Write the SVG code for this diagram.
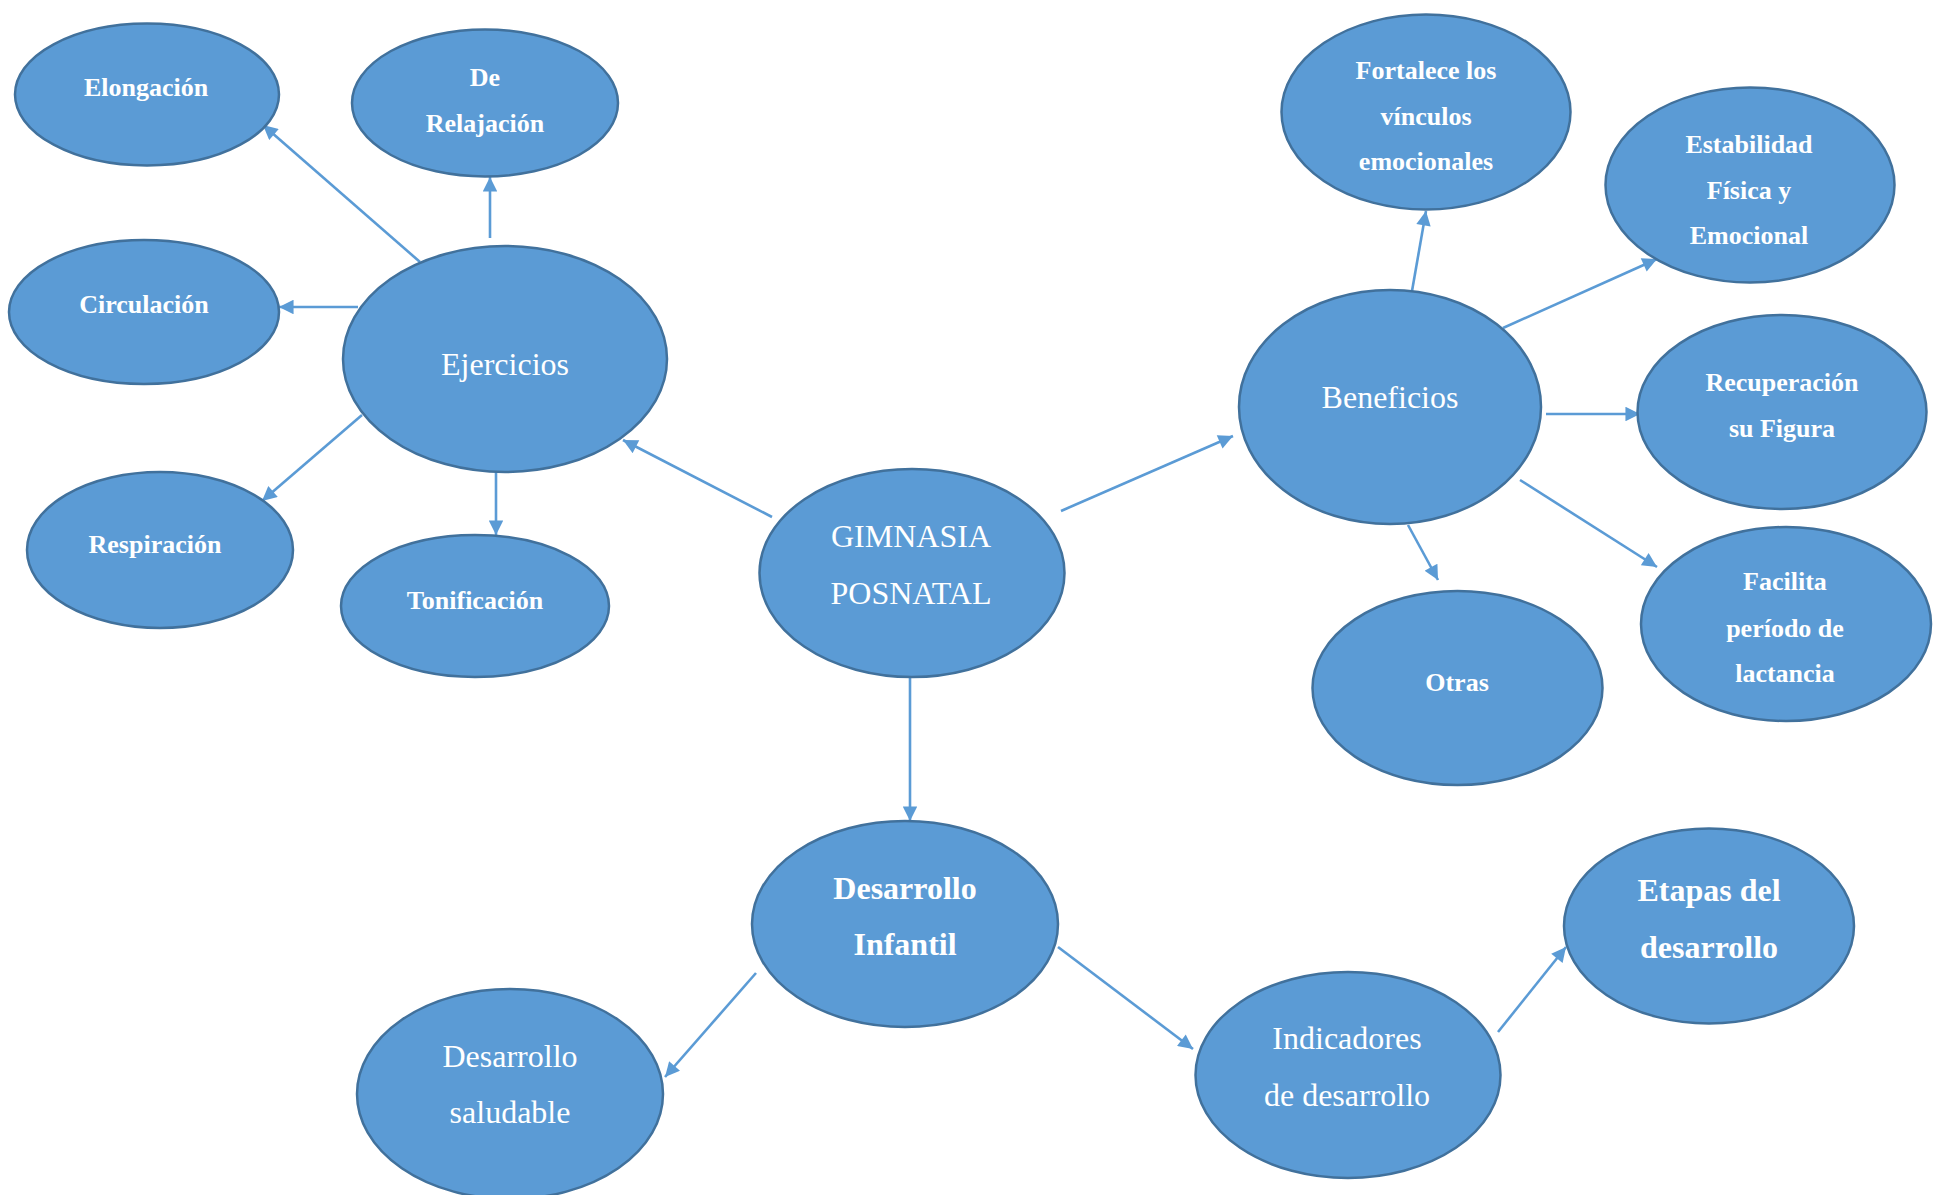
<svg xmlns="http://www.w3.org/2000/svg" width="1936" height="1195" viewBox="0 0 1936 1195">
<style>
.n ellipse{fill:#5B9BD5;stroke:#41719C;stroke-width:2.5}
.n text{fill:#fff;font-family:"Liberation Serif","Times New Roman",serif;text-anchor:middle}
.b text{font-weight:bold;font-size:26px}
.r text{font-size:32px}
.bb text{font-weight:bold;font-size:32px}
#edges line{stroke:#5B9BD5;stroke-width:2.6;marker-end:url(#ah)}
</style>
<defs>
<marker id="ah" viewBox="0 0 10 10" refX="10" refY="5" markerWidth="6" markerHeight="5.6" markerUnits="strokeWidth" orient="auto">
<path d="M0,0 L10,5 L0,10 z" fill="#5B9BD5"/>
</marker>
<clipPath id="clipF"><rect x="1280" y="0" width="300" height="171"/></clipPath>
<clipPath id="clipE"><rect x="1600" y="0" width="300" height="245.5"/></clipPath>
</defs>
<rect width="1936" height="1195" fill="#fff"/>
<g id="edges">
<line x1="420" y1="262" x2="263" y2="125"/>
<line x1="490" y1="238" x2="490" y2="177"/>
<line x1="358" y1="307" x2="279" y2="307"/>
<line x1="362" y1="415" x2="262" y2="501"/>
<line x1="496" y1="472" x2="496" y2="535"/>
<line x1="772" y1="517" x2="623" y2="440"/>
<line x1="1061" y1="511" x2="1233" y2="436"/>
<line x1="910" y1="677" x2="910" y2="821"/>
<line x1="1412" y1="291" x2="1426" y2="211"/>
<line x1="1503" y1="328" x2="1657" y2="259"/>
<line x1="1546" y1="414" x2="1640" y2="414"/>
<line x1="1520" y1="480" x2="1657" y2="567"/>
<line x1="1408" y1="525" x2="1438" y2="580"/>
<line x1="756" y1="973" x2="665" y2="1077"/>
<line x1="1058" y1="947" x2="1193" y2="1049"/>
<line x1="1498" y1="1032" x2="1566" y2="947"/>
</g>
<g id="elongacion" class="n b"><ellipse cx="147" cy="94.5" rx="132" ry="71"/><text x="146" y="96">Elongación</text></g>
<g id="relajacion" class="n b"><ellipse cx="485" cy="103" rx="133" ry="73.5"/><text x="485" y="86">De</text><text x="485" y="132">Relajación</text></g>
<g id="circulacion" class="n b"><ellipse cx="144" cy="312" rx="135" ry="72"/><text x="144" y="313">Circulación</text></g>
<g id="ejercicios" class="n r"><ellipse cx="505" cy="359" rx="162" ry="113"/><text x="505" y="375">Ejercicios</text></g>
<g id="respiracion" class="n b"><ellipse cx="160" cy="550" rx="133" ry="78"/><text x="155" y="553">Respiración</text></g>
<g id="tonificacion" class="n b"><ellipse cx="475" cy="606" rx="134" ry="71"/><text x="475" y="609">Tonificación</text></g>
<g id="gimnasia" class="n r"><ellipse cx="912" cy="573" rx="152.5" ry="104"/><text x="911" y="547">GIMNASIA</text><text x="911" y="604">POSNATAL</text></g>
<g id="beneficios" class="n r"><ellipse cx="1390" cy="407" rx="151" ry="117"/><text x="1390" y="408">Beneficios</text></g>
<g id="fortalece" class="n b"><ellipse cx="1426" cy="112" rx="144.5" ry="97.5"/><g clip-path="url(#clipF)"><text x="1426" y="79">Fortalece los</text><text x="1426" y="125">vínculos</text><text x="1426" y="170">emocionales</text></g></g>
<g id="estabilidad" class="n b"><ellipse cx="1750" cy="185" rx="144.5" ry="97.5"/><g clip-path="url(#clipE)"><text x="1749" y="153">Estabilidad</text><text x="1749" y="199">Física y</text><text x="1749" y="244">Emocional</text></g></g>
<g id="recuperacion" class="n b"><ellipse cx="1782" cy="412" rx="144.5" ry="97"/><text x="1782" y="391">Recuperación</text><text x="1782" y="437">su Figura</text></g>
<g id="facilita" class="n b"><ellipse cx="1786" cy="624" rx="145" ry="97"/><text x="1785" y="590">Facilita</text><text x="1785" y="637">período de</text><text x="1785" y="682">lactancia</text></g>
<g id="otras" class="n b"><ellipse cx="1457.5" cy="688" rx="145" ry="97"/><text x="1457" y="691">Otras</text></g>
<g id="desarrollo-infantil" class="n bb"><ellipse cx="905" cy="924" rx="153" ry="103"/><text x="905" y="899">Desarrollo</text><text x="905" y="955">Infantil</text></g>
<g id="desarrollo-saludable" class="n r"><ellipse cx="510" cy="1094" rx="153" ry="105"/><text x="510" y="1067">Desarrollo</text><text x="510" y="1123">saludable</text></g>
<g id="indicadores" class="n r"><ellipse cx="1348" cy="1075" rx="152.5" ry="103"/><text x="1347" y="1049">Indicadores</text><text x="1347" y="1106">de desarrollo</text></g>
<g id="etapas" class="n bb"><ellipse cx="1709" cy="926" rx="145" ry="97.5"/><text x="1709" y="901">Etapas del</text><text x="1709" y="958">desarrollo</text></g>
</svg>
